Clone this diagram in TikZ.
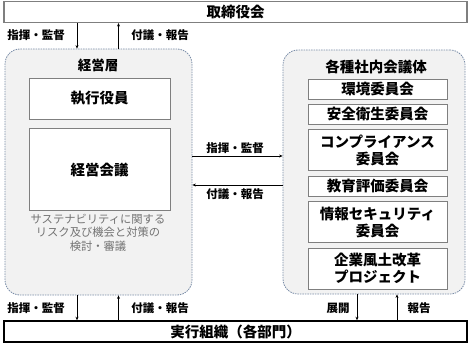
\documentclass[tikz,border=0pt]{standalone}
\usepackage{fontspec}
\setmainfont{Noto Sans CJK JP}
\usetikzlibrary{arrows.meta,positioning}
\definecolor{framegray}{HTML}{7F7F7F}
\definecolor{dashblue}{HTML}{7A8DA8}
\definecolor{panelfill}{HTML}{F2F2F2}
\definecolor{notegray}{HTML}{737373}
\tikzset{
  barbox/.style={rectangle, draw=framegray, line width=1.1pt, fill=white, minimum width=463pt, minimum height=21pt, inner sep=0pt, font=\bfseries\fontsize{14.5}{17}\selectfont},
  basebox/.style={barbox, draw=black, line width=1.4pt},
  panel/.style={rectangle, rounded corners=15pt, draw=dashblue, dash pattern=on 1.5pt off 1pt, line width=0.8pt, fill=panelfill, inner sep=0pt},
  unitbox/.style={rectangle, draw=framegray, line width=0.9pt, fill=white, align=center, inner sep=0pt, font=\bfseries\fontsize{14.5}{17}\selectfont},
  paneltitle/.style={inner sep=0pt, font=\bfseries\fontsize{14}{17}\selectfont},
  flowlabel/.style={inner sep=0pt, font=\bfseries\fontsize{11.5}{13}\selectfont},
  notetext/.style={inner sep=0pt, align=center, text=notegray, font=\fontsize{11.3}{13.5}\selectfont},
  flowarrow/.style={-{Stealth[length=3.5pt,width=3pt]}, line width=0.7pt}
}
\begin{document}
\begin{tikzpicture}[x=1pt, y=-1pt, node distance=4.5pt]
\useasboundingbox (0,0) rectangle (470,347);
% 上下の帯
\node[barbox] (board) at (235.5,12) {取締役会};
\node[basebox] (exec) at (235.5,331.5) {実行組織（各部門）};
% 左右のパネル
\node[panel, minimum width=187pt, minimum height=246pt] (mgmt) at (98.5,172) {};
\node[panel, minimum width=182pt, minimum height=244pt] (comm) at (374,172) {};
% 経営層
\node[paneltitle, font=\bfseries\fontsize{13.5}{16}\selectfont] (mgmttitle) at (98,65) {経営層};
\node[unitbox, minimum width=141pt, minimum height=41pt] (officers) at (99.5,98.5) {執行役員};
\node[unitbox, minimum width=141pt, minimum height=82pt] (council) at (99.5,169.5) {経営会議};
\node[notetext] (mgmtnote) at (98,232.5) {サステナビリティに関する\\リスク及び機会と対策の\\検討・審議};
% 各種社内会議体
\node[paneltitle, font=\bfseries\fontsize{14.5}{17}\selectfont] (commtitle) at (376,67) {各種社内会議体};
\node[unitbox, minimum width=139pt, minimum height=20pt] (envc) at (377.5,89) {環境委員会};
\node[unitbox, minimum width=139pt, minimum height=20pt, below=of envc] (safec) {安全衛生委員会};
\node[unitbox, minimum width=139pt, minimum height=41pt, below=of safec] (compc) {コンプライアンス\\委員会};
\node[unitbox, minimum width=139pt, minimum height=20pt, below=of compc] (educ) {教育評価委員会};
\node[unitbox, minimum width=139pt, minimum height=41pt, below=of educ] (secc) {情報セキュリティ\\委員会};
\node[unitbox, minimum width=139pt, minimum height=41pt, below=of secc] (reformc) {企業風土改革\\プロジェクト};
% 矢印の位置
\coordinate (downx) at (77,0);
\coordinate (upx) at (118.5,0);
\coordinate (spreadx) at (357,0);
\coordinate (reportx) at (397,0);
\coordinate (righty) at (0,156);
\coordinate (lefty) at (0,185);
\draw[flowarrow] (board.south -| downx) -- (mgmt.north -| downx);
\draw[flowarrow] (mgmt.north -| upx) -- (board.south -| upx);
\draw[flowarrow] (mgmt.south -| downx) -- (exec.north -| downx);
\draw[flowarrow] (exec.north -| upx) -- (mgmt.south -| upx);
\draw[flowarrow] (comm.south -| spreadx) -- (exec.north -| spreadx);
\draw[flowarrow] (exec.north -| reportx) -- (comm.south -| reportx);
\draw[flowarrow] (mgmt.east |- righty) -- (comm.west |- righty);
\draw[flowarrow] (comm.west |- lefty) -- (mgmt.east |- lefty);
% ラベル
\node[flowlabel] (cmdtop) at (36,35) {指揮・監督};
\node[flowlabel] (reptop) at (160,35) {付議・報告};
\node[flowlabel] (cmdmid) at (235,148) {指揮・監督};
\node[flowlabel] (repmid) at (235,194) {付議・報告};
\node[flowlabel] (cmdbot) at (36,308) {指揮・監督};
\node[flowlabel] (repbot) at (160,308) {付議・報告};
\node[flowlabel] (spreadlbl) at (338,308) {展開};
\node[flowlabel] (reportlbl) at (419,308) {報告};
\end{tikzpicture}
\end{document}
